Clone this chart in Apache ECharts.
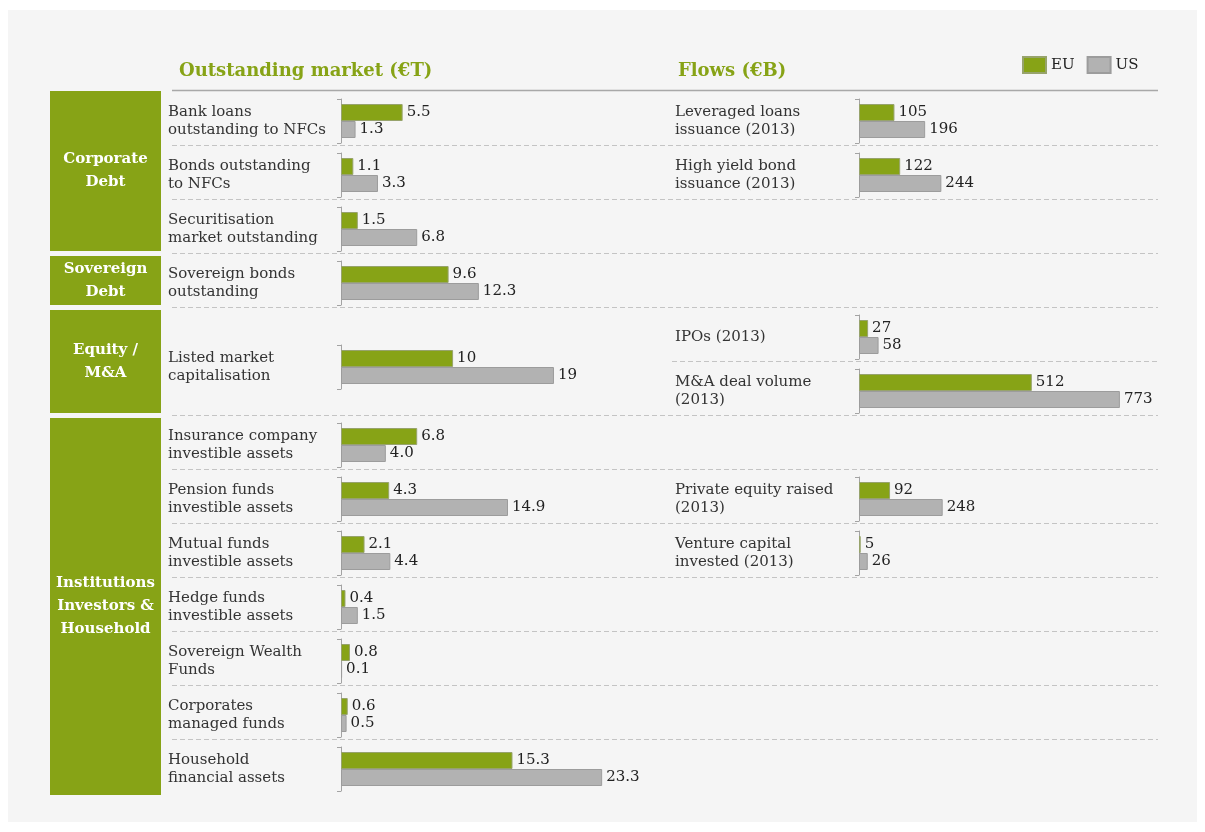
<!DOCTYPE html>
<html>
<head>
<meta charset="utf-8">
<script src="https://cdn.jsdelivr.net/npm/echarts@6/dist/echarts.min.js"></script>
<style>
  html, body { margin: 0; padding: 0; background: #ffffff; }
  #panel { position: absolute; left: 8px; top: 10px; width: 1189px; height: 812px; background: #f5f5f5; }
  #chart { position: absolute; left: 0; top: 0; width: 1205px; height: 832px; }
</style>
</head>
<body>
<div id="panel"></div>
<div id="chart"></div>
<script>
// outstanding market (€T)
const stockLabels = [
  "Bank loans\noutstanding to NFCs",
  "Bonds outstanding\nto NFCs",
  "Securitisation\nmarket outstanding",
  "Sovereign bonds\noutstanding",
  "Listed market\ncapitalisation",
  "Insurance company\ninvestible assets",
  "Pension funds\ninvestible assets",
  "Mutual funds\ninvestible assets",
  "Hedge funds\ninvestible assets",
  "Sovereign Wealth\nFunds",
  "Corporates\nmanaged funds",
  "Household\nfinancial assets",
];
const stockEU = [5.5, 1.1, 1.5, 9.6, 10, 6.8, 4.3, 2.1, 0.4, 0.8, 0.6, 15.3];
const stockUS = [1.3, 3.3, 6.8, 12.3, 19, 4.0, 14.9, 4.4, 1.5, 0.1, 0.5, 23.3];

// flows (€B)
const flowLabels = [
  "Leveraged loans\nissuance (2013)",
  "High yield bond\nissuance (2013)",
  "IPOs (2013)",
  "M&A deal volume\n(2013)",
  "Private equity raised\n(2013)",
  "Venture capital\ninvested (2013)",
];
const flowEU = [105, 122, 27, 512, 92, 5];
const flowUS = [196, 244, 58, 773, 248, 26];

const groupNames = ["Corporate\nDebt", "Sovereign\nDebt", "Equity /\nM&A", "Institutions\nInvestors &\nHousehold"];

// layout: which row slot each item sits in (slot, span)
const stockSlots = [[0, 1], [1, 1], [2, 1], [3, 1], [4, 2], [6, 1], [7, 1], [8, 1], [9, 1], [10, 1], [11, 1], [12, 1]];
const flowSlots = [[0, 1], [1, 1], [4, 1], [5, 1], [7, 1], [8, 1]];
const groupSlots = [[0, 3], [3, 1], [4, 2], [6, 7]];

const FONT = "DejaVu Serif";
const GREEN = "#87a316";
const GREY = "#b2b2b2";
const ROW_TOP = 91;
const ROW_H = 54;

const grids = [];
const xAxes = [];
const yAxes = [];
const series = [];

const fmtStock = (v) => (v < 10 ? v.toFixed(1) : String(v));
const fmtFlow = (v) => String(v);

function addRow(label, eu, us, slot, span, left, max, width, margin, fmt) {
  const idx = grids.length;
  const center = ROW_TOP + slot * ROW_H + (span * ROW_H) / 2 + 3 * span;
  grids.push({ left: left, top: center - 22, width: width, height: 44, containLabel: false, outerBoundsMode: "none" });
  xAxes.push({ gridIndex: idx, type: "value", min: 0, max: max, show: false });
  yAxes.push({
    gridIndex: idx,
    type: "category",
    data: [label],
    inverse: true,
    axisLine: { lineStyle: { color: "#a3a3a3", width: 1 } },
    axisTick: { show: true, length: 4, lineStyle: { color: "#a3a3a3" } },
    axisLabel: {
      align: "left",
      margin: margin,
      color: "#333",
      fontSize: 15,
      lineHeight: 18,
      fontFamily: FONT,
      padding: [0, 0, 9 * span, 0],
    },
    splitLine: { show: false },
  });
  const lbl = {
    show: true,
    position: "right",
    distance: 4,
    color: "#222",
    fontSize: 15,
    fontFamily: FONT,
    formatter: (p) => fmt(p.value),
  };
  series.push({
    name: "EU", type: "bar", xAxisIndex: idx, yAxisIndex: idx, data: [eu],
    barWidth: 17, barGap: "0%",
    itemStyle: { color: GREEN, borderColor: "#97a36c", borderWidth: 1 },
    label: lbl,
  });
  series.push({
    name: "US", type: "bar", xAxisIndex: idx, yAxisIndex: idx, data: [us],
    barWidth: 17, barGap: "0%",
    itemStyle: { color: GREY, borderColor: "#9c9c9c", borderWidth: 1 },
    label: lbl,
  });
}

stockLabels.forEach((l, i) => {
  addRow(l, stockEU[i], stockUS[i], stockSlots[i][0], stockSlots[i][1], 341, 24, 269, 173, fmtStock);
});
flowLabels.forEach((l, i) => {
  addRow(l, flowEU[i], flowUS[i], flowSlots[i][0], flowSlots[i][1], 859, 800, 270, 184, fmtFlow);
});

// header rule, dashed row separators, group blocks
const graphics = [];
graphics.push({
  type: "line", silent: true,
  shape: { x1: 172, y1: 90.5, x2: 1158, y2: 90.5 },
  style: { stroke: "#a8a8a8", lineWidth: 1.5 },
});
for (let k = 1; k <= 12; k++) {
  const y = ROW_TOP + k * ROW_H + 0.5;
  // slot 4 -> 5 boundary only exists on the flows side
  const x1 = k === 5 ? 672 : 172;
  graphics.push({
    type: "line", silent: true,
    shape: { x1: x1, y1: y, x2: 1158, y2: y },
    style: { stroke: "#c4c4c4", lineWidth: 1, lineDash: [5, 3] },
  });
}
groupNames.forEach((name, i) => {
  const [slot, span] = groupSlots[i];
  const top = ROW_TOP + slot * ROW_H + (slot > 0 ? 3 : 0);
  const bottom = i === groupNames.length - 1 ? ROW_TOP + 13 * ROW_H + 2 : ROW_TOP + (slot + span) * ROW_H - 2;
  graphics.push({
    type: "rect", silent: true,
    shape: { x: 50, y: top, width: 111, height: bottom - top },
    style: { fill: GREEN },
  });
  graphics.push({
    type: "text", silent: true,
    style: {
      text: name,
      x: 105.5,
      y: (top + bottom) / 2,
      align: "center",
      verticalAlign: "middle",
      fill: "#ffffff",
      fontSize: 15,
      fontWeight: "bold",
      fontFamily: FONT,
      lineHeight: 23,
    },
  });
});

const chart = echarts.init(document.getElementById("chart"));
chart.setOption({
  backgroundColor: "transparent",
  animation: false,
  title: [
    {
      text: "Outstanding market (€T)", left: 174, top: 57,
      textStyle: { color: GREEN, fontSize: 18, fontWeight: "bold", fontFamily: FONT },
    },
    {
      text: "Flows (€B)", left: 673, top: 57,
      textStyle: { color: GREEN, fontSize: 18, fontWeight: "bold", fontFamily: FONT },
    },
  ],
  legend: {
    data: ["EU", "US"],
    left: 1022, top: 56,
    padding: 0,
    icon: "rect",
    itemWidth: 23, itemHeight: 16, itemGap: 12,
    textStyle: { color: "#222", fontSize: 15, fontFamily: FONT },
  },
  grid: grids,
  xAxis: xAxes,
  yAxis: yAxes,
  series: series,
  graphic: graphics,
});
</script>
</body>
</html>
